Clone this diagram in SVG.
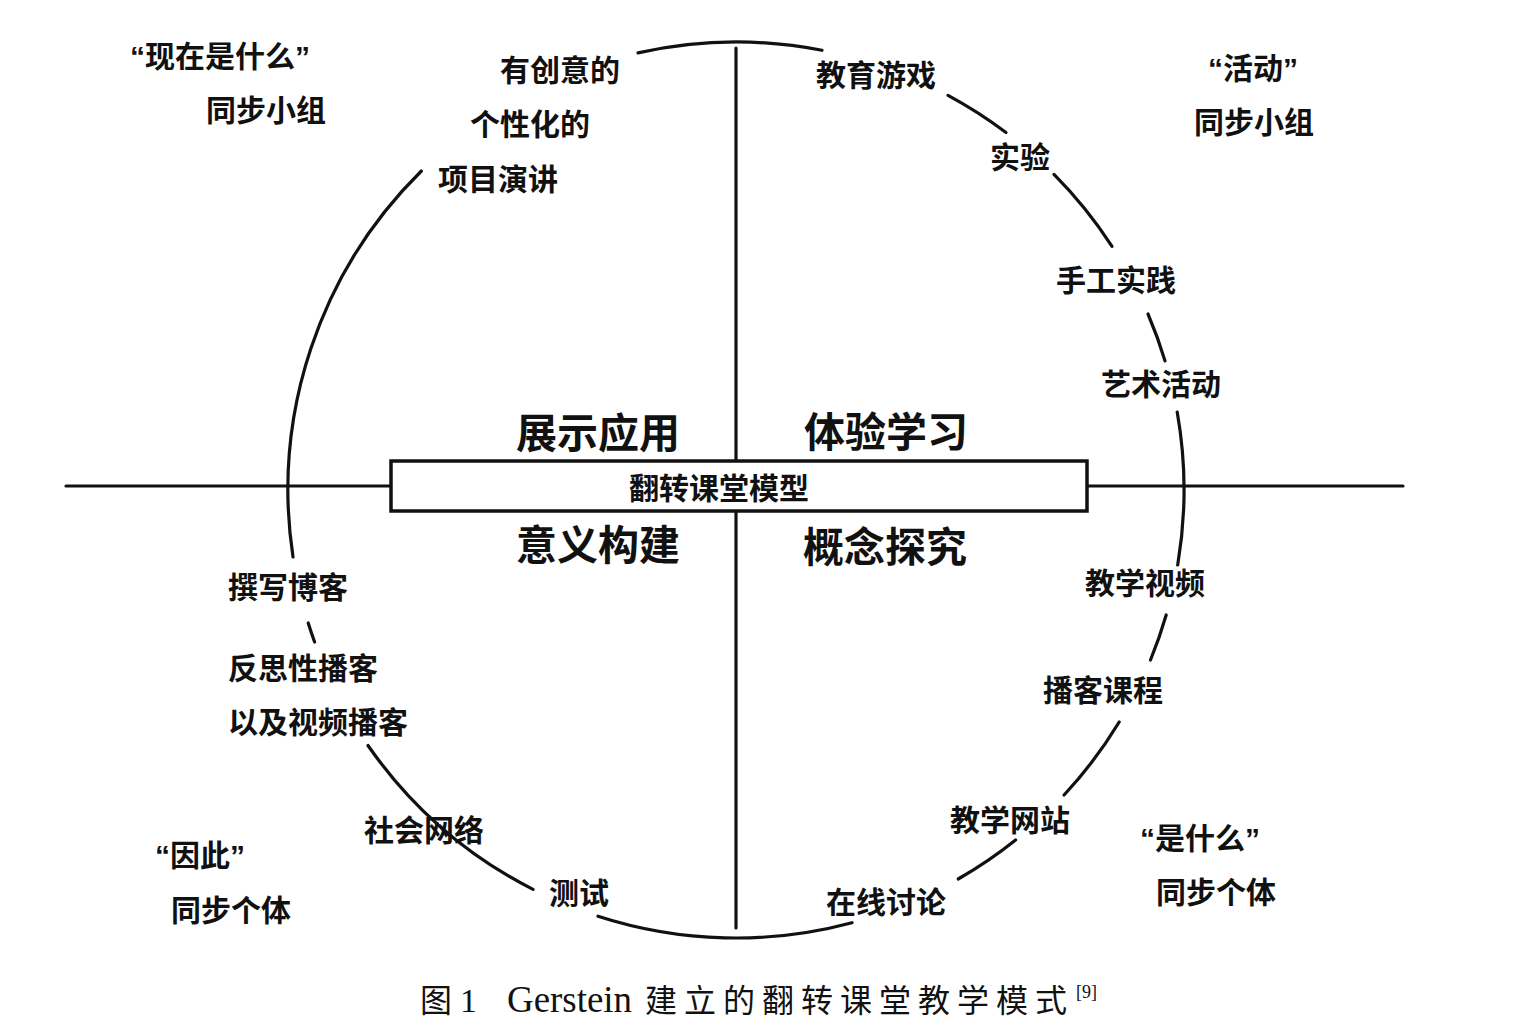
<svg xmlns="http://www.w3.org/2000/svg" width="1520" height="1033" viewBox="0 0 1520 1033">
<style>
.ln{fill:none;stroke:#111;stroke-width:3.2;stroke-linecap:round}
.t{font-family:"Liberation Sans","Noto Sans CJK SC",sans-serif;font-weight:700;font-size:30px;fill:#111;text-anchor:middle}
.q{font-size:41px}
.l{text-anchor:start}
.cap{font-family:"Liberation Serif","Noto Sans CJK SC",serif;font-size:32px;fill:#111}
</style>
<rect width="1520" height="1033" fill="#fff"/>
<g id="connectors">
<line class="ln" x1="66" y1="486" x2="1403" y2="486"/>
<line class="ln" x1="736" y1="48" x2="736" y2="928"/>
<path class="ln" d="M638,52.9 A448,448 0 0 1 822,50.3"/>
<path class="ln" d="M948,95.3 A448,448 0 0 1 1006,132.5"/>
<path class="ln" d="M1054,174.4 A448,448 0 0 1 1112,246.4"/>
<path class="ln" d="M1148,314 A448,448 0 0 1 1165,360.9"/>
<path class="ln" d="M1177.2,412 A448,448 0 0 1 1177.7,565"/>
<path class="ln" d="M1166.2,615 A448,448 0 0 1 1150.5,660"/>
<path class="ln" d="M1119.2,722 A448,448 0 0 1 1064.1,795"/>
<path class="ln" d="M1015.6,840 A448,448 0 0 1 958.2,879"/>
<path class="ln" d="M852,922.7 A448,448 0 0 1 598,916.2"/>
<path class="ln" d="M533,889.4 A448,448 0 0 1 368,745.5"/>
<path class="ln" d="M314.6,642 A448,448 0 0 1 308.2,623"/>
<path class="ln" d="M293,557 A448,448 0 0 1 421.4,171"/>
</g>
<g id="center-model">
<rect x="391" y="461" width="696" height="50" fill="#fff" stroke="#111" stroke-width="3.5"/>
<text class="t" x="719" y="499">翻转课堂模型</text>
</g>
<g id="q-present"><text class="t q" x="598" y="448">展示应用</text></g>
<g id="q-experience"><text class="t q" x="886" y="447">体验学习</text></g>
<g id="q-meaning"><text class="t q" x="598" y="560">意义构建</text></g>
<g id="q-concept"><text class="t q" x="885" y="562">概念探究</text></g>
<g id="tl-group"><text class="t" x="220" y="67">“现在是什么”</text><text class="t" x="266" y="121">同步小组</text></g>
<g id="tr-group"><text class="t" x="1253" y="79">“活动”</text><text class="t" x="1254" y="133">同步小组</text></g>
<g id="bl-group"><text class="t" x="200" y="866">“因此”</text><text class="t" x="231" y="921">同步个体</text></g>
<g id="br-group"><text class="t" x="1200" y="849">“是什么”</text><text class="t" x="1216" y="903">同步个体</text></g>
<g id="n-project"><text class="t" x="560" y="81">有创意的</text><text class="t" x="530" y="135">个性化的</text><text class="t" x="498" y="190">项目演讲</text></g>
<g id="n-game"><text class="t" x="876" y="86">教育游戏</text></g>
<g id="n-experiment"><text class="t" x="1020" y="168">实验</text></g>
<g id="n-handwork"><text class="t" x="1116" y="291">手工实践</text></g>
<g id="n-art"><text class="t" x="1161" y="395">艺术活动</text></g>
<g id="n-video"><text class="t" x="1145" y="594">教学视频</text></g>
<g id="n-podcast"><text class="t" x="1103" y="701">播客课程</text></g>
<g id="n-website"><text class="t" x="1010" y="831">教学网站</text></g>
<g id="n-discuss"><text class="t" x="886" y="913">在线讨论</text></g>
<g id="n-test"><text class="t" x="579" y="904">测试</text></g>
<g id="n-social"><text class="t" x="424" y="841">社会网络</text></g>
<g id="n-blog"><text class="t l" x="228" y="598">撰写博客</text></g>
<g id="n-reflect"><text class="t l" x="228" y="679">反思性播客</text><text class="t l" x="228" y="733">以及视频播客</text></g>
<g id="caption">
<text class="cap" y="1012"><tspan x="420">图</tspan><tspan x="460" font-size="34">1</tspan><tspan x="507" font-size="37" textLength="125" lengthAdjust="spacingAndGlyphs">Gerstein</tspan><tspan x="645" textLength="422" lengthAdjust="spacing">建立的翻转课堂教学模式</tspan><tspan x="1076" y="998" font-size="18">[9]</tspan></text>
</g>
</svg>
